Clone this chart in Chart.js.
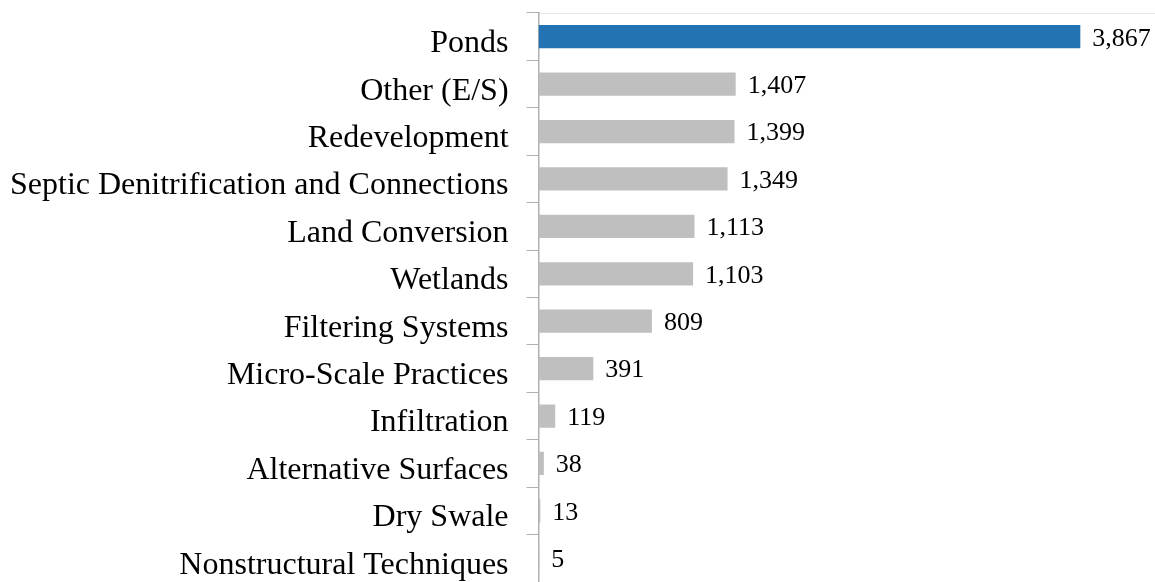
<!DOCTYPE html>
<html lang="en">
<head>
    <meta charset="UTF-8">
    <title>Practices</title>
    <script src="https://cdn.jsdelivr.net/npm/chart.js"></script>
    <style>
        html, body { margin: 0; padding: 0; background: #fff; overflow: hidden; }
        #wrap { width: 1155px; height: 582px; position: relative; }
    </style>
</head>
<body>
    <div id="wrap">
        <canvas id="bmpChart"></canvas>
    </div>

    <script>
        // данные
        const categories = [
            'Ponds',
            'Other (E/S)',
            'Redevelopment',
            'Septic Denitrification and Connections',
            'Land Conversion',
            'Wetlands',
            'Filtering Systems',
            'Micro-Scale Practices',
            'Infiltration',
            'Alternative Surfaces',
            'Dry Swale',
            'Nonstructural Techniques'
        ];
        const values = [3867, 1407, 1399, 1349, 1113, 1103, 809, 391, 119, 38, 13, 5];

        const serif = "'Liberation Serif', 'Times New Roman', serif";

        // подписи значений справа от столбцов
        const valueLabels = {
            id: 'valueLabels',
            afterDatasetsDraw(chart) {
                const ctx = chart.ctx;
                const meta = chart.getDatasetMeta(0);
                ctx.save();
                ctx.font = '26px ' + serif;
                ctx.fillStyle = '#000';
                ctx.textAlign = 'left';
                ctx.textBaseline = 'middle';
                meta.data.forEach((bar, i) => {
                    ctx.fillText(values[i].toLocaleString('en-US'), bar.x + 12, bar.y + 2);
                });
                ctx.restore();
            }
        };

        new Chart(document.getElementById('bmpChart'), {
            type: 'bar',
            data: {
                labels: categories,
                datasets: [{
                    data: values,
                    backgroundColor: c => c.dataIndex === 0 ? '#2372B4' : '#BFBFBF',
                    barPercentage: 0.49,
                    categoryPercentage: 1
                }]
            },
            options: {
                indexAxis: 'y',
                responsive: true,
                maintainAspectRatio: false,
                animation: false,
                layout: { padding: { left: -8, right: 0, top: 13, bottom: 0 } },
                plugins: {
                    legend: { display: false },
                    tooltip: { enabled: false }
                },
                scales: {
                    x: {
                        position: 'top',
                        min: 0,
                        max: 4400,
                        ticks: { display: false },
                        grid: { display: false },
                        border: { display: true, color: '#e8e8e8', width: 1 },
                        afterFit(scale) { scale.height = 0; }
                    },
                    y: {
                        ticks: {
                            color: '#000',
                            padding: 18,
                            labelOffset: 7,
                            font: { family: serif, size: 32 }
                        },
                        grid: {
                            offset: true,
                            drawOnChartArea: false,
                            drawTicks: true,
                            tickLength: 12,
                            color: '#b0b0b0'
                        },
                        border: { display: true, color: '#b0b0b0', width: 1.5 },
                        afterFit(scale) { scale.paddingTop = 0; scale.paddingBottom = 0; }
                    }
                }
            },
            plugins: [valueLabels]
        });
    </script>
</body>
</html>
